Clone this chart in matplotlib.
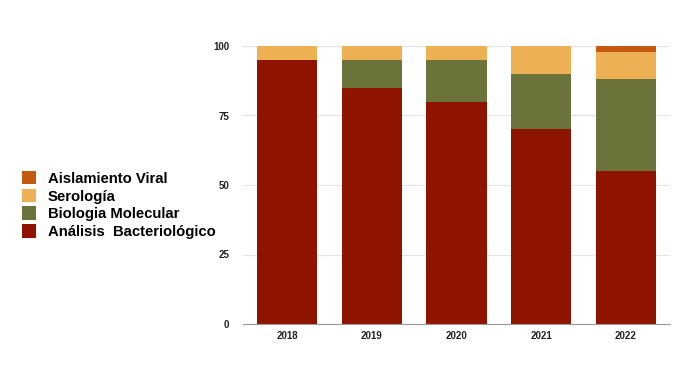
import matplotlib.pyplot as plt
import numpy as np

plt.rcParams['font.family'] = ['Liberation Sans', 'DejaVu Sans']

# datos
years = ['2018', '2019', '2020', '2021', '2022']
bacteriologico = [95, 85, 80, 70, 55]
molecular = [0, 10, 15, 20, 33]
serologia = [5, 5, 5, 10, 10]
viral = [0, 0, 0, 0, 2]

series = [
    ('Análisis  Bacteriológico', bacteriologico, '#8f1400'),
    ('Biologia Molecular', molecular, '#6b733a'),
    ('Serología', serologia, '#edb052'),
    ('Aislamiento Viral', viral, '#c45a10'),
]

fig = plt.figure(figsize=(6.92, 3.89), dpi=100)
ax = fig.add_axes([243 / 692, 1 - 324 / 389, 427 / 692, 278 / 389])

x = np.arange(len(years))
bottom = np.zeros(len(years))
handles = []
for name, vals, color in series:
    h = ax.bar(x, vals, bottom=bottom, width=0.71, color=color, label=name, zorder=2)
    handles.append(h)
    bottom += np.array(vals)

ax.set_xlim(-0.52, 4.52)
ax.set_ylim(0, 100)
ax.set_yticks([0, 25, 50, 75, 100])
ax.set_xticks(x)
ax.set_xticklabels(years)
ax.grid(axis='y', color='#e4e4e4', lw=0.8, zorder=0)
for s in ['top', 'right', 'left']:
    ax.spines[s].set_visible(False)
ax.spines['bottom'].set_color('#999999')
ax.tick_params(length=0, labelsize=7)
for t in ax.get_xticklabels() + ax.get_yticklabels():
    t.set_fontweight('bold')
    t.set_color('#222222')
ax.tick_params(axis='y', pad=10)
ax.tick_params(axis='x', pad=5)

# leyenda a la izquierda
fig.legend(handles[::-1], [s[0] for s in series][::-1],
           loc='center left', bbox_to_anchor=(0.012, 0.473), frameon=False,
           prop={'size': 10.7, 'weight': 'bold'}, handlelength=0.95, handleheight=1.05,
           handletextpad=0.8, labelspacing=0.2)

fig.savefig('out.png', dpi=100)
